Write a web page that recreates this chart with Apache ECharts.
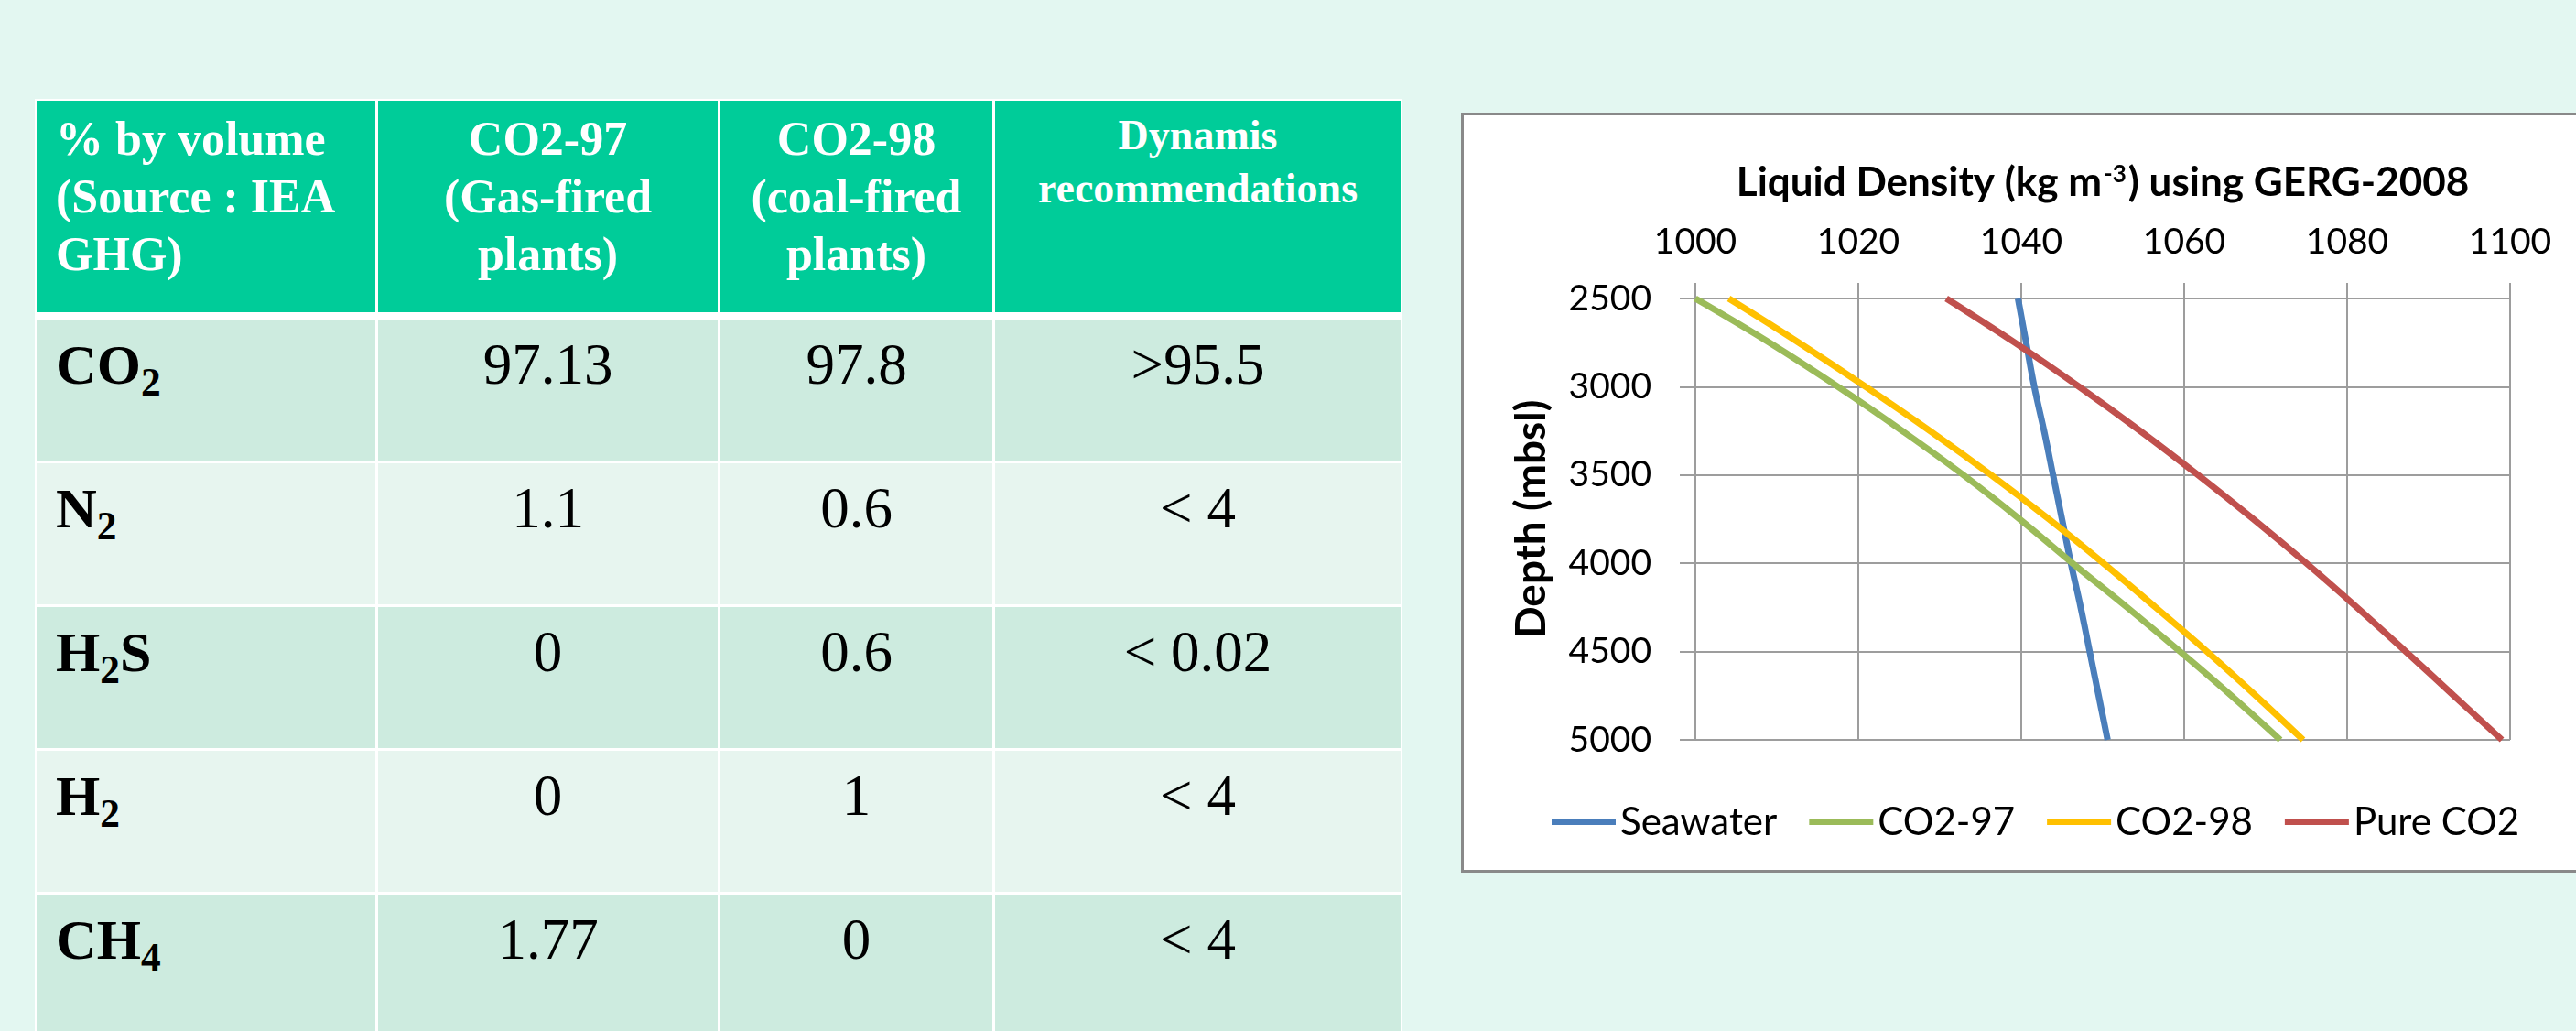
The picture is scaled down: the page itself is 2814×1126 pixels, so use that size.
<!DOCTYPE html>
<html>
<head>
<meta charset="utf-8">
<script src="https://cdn.jsdelivr.net/npm/echarts@6/dist/echarts.min.js"></script>
<style>
  body {
    margin: 0;
    width: 2814px;
    height: 1126px;
    overflow: hidden;
    position: relative;
    background: #e3f7f1;
    font-family: "Liberation Serif", "Times New Roman", serif;
  }
  #table {
    position: absolute;
    left: 38px;
    top: 108px;
    padding: 2px;
    background: #ffffff;
    display: grid;
    grid-template-columns: 370px 371px 297px 443px;
    grid-template-rows: 236px 154px 154px 154px 154px 154px;
    column-gap: 3px;
    row-gap: 3px;
  }
  .cell {
    box-sizing: border-box;
    white-space: nowrap;
  }
  .head {
    background: #00cc99;
    color: #ffffff;
    font-weight: bold;
    font-size: 52px;
    line-height: 63px;
    padding-top: 10px;
    margin-bottom: 5px;
    text-align: center;
  }
  .head.small {
    font-size: 46px;
    line-height: 58px;
    padding-top: 9px;
  }
  .body {
    color: #000000;
    font-size: 63px;
    line-height: 72px;
    padding-top: 13px;
    text-align: center;
  }
  .first {
    text-align: left;
    padding-left: 21px;
  }
  .body.first {
    font-weight: bold;
    font-size: 62px;
  }
  .odd { background: #cdebdf; }
  .even { background: #e7f5ef; }
  sub {
    font-size: 0.7em;
    vertical-align: -0.3em;
    line-height: 0;
  }
  #frame {
    position: absolute;
    left: 1596px;
    top: 123px;
    width: 1240px;
    height: 830px;
    box-sizing: border-box;
    border: 3px solid #898989;
    background: #ffffff;
  }
  #chart {
    position: absolute;
    left: 0;
    top: 0;
    width: 2814px;
    height: 1126px;
  }
</style>
</head>
<body>
<div id="table"></div>
<div id="frame"></div>
<div id="chart"></div>
<script>
// table content
const headers = [
  ["% by volume", "(Source : IEA", "GHG)"],
  ["CO2-97", "(Gas-fired", "plants)"],
  ["CO2-98", "(coal-fired", "plants)"],
  ["Dynamis", "recommendations"]
];
const components = ["CO<sub>2</sub>", "N<sub>2</sub>", "H<sub>2</sub>S", "H<sub>2</sub>", "CH<sub>4</sub>"];
const gasFired = ["97.13", "1.1", "0", "0", "1.77"];
const coalFired = ["97.8", "0.6", "0.6", "1", "0"];
const recommendations = [">95.5", "< 4", "< 0.02", "< 4", "< 4"];

// chart data: depth (mbsl) and liquid density (kg m-3)
const depths = [2500, 2750, 3000, 3250, 3500, 3750, 4000, 4250, 4500, 4750, 5000];
const seawater = [1039.6, 1040.6, 1041.6, 1042.8, 1043.9, 1045.0, 1046.1, 1047.3, 1048.4, 1049.5, 1050.6];
const co297 = [1000.0, 1009.1, 1017.5, 1025.4, 1032.9, 1039.8, 1046.3, 1053.0, 1059.5, 1065.8, 1071.8];
const co298 = [1004.1, 1012.7, 1020.9, 1028.8, 1036.3, 1043.4, 1050.1, 1056.5, 1062.8, 1068.8, 1074.6];
const pureCO2 = [1030.8, 1039.2, 1047.1, 1054.6, 1061.7, 1068.5, 1075.0, 1081.2, 1087.2, 1093.1, 1099.0];

const seriesNames = ["Seawater", "CO2-97", "CO2-98", "Pure CO2"];
const seriesColors = ["#4a7ebb", "#9bbb59", "#ffc000", "#c0504d"];

// build the table
const table = document.getElementById("table");
const escape = (s) => s.replace(/&/g, "&amp;").replace(/</g, "&lt;").replace(/>/g, "&gt;");
headers.forEach((lines, i) => {
  const div = document.createElement("div");
  div.className = "cell head" + (i === 0 ? " first" : "") + (i === 3 ? " small" : "");
  div.innerHTML = lines.map(escape).join("<br>");
  table.appendChild(div);
});
components.forEach((name, r) => {
  const cls = r % 2 === 0 ? "odd" : "even";
  const row = [name, escape(gasFired[r]), escape(coalFired[r]), escape(recommendations[r])];
  row.forEach((html, c) => {
    const div = document.createElement("div");
    div.className = "cell body " + cls + (c === 0 ? " first" : "");
    div.innerHTML = html;
    table.appendChild(div);
  });
});

// chart
const gray = "#9d9d9d";
const toPoints = (values) => depths.map((d, i) => [values[i], d]);
const seriesValues = [seawater, co297, co298, pureCO2];
const plain = (v) => String(v);

const myChart = echarts.init(document.getElementById("chart"));
const option = {
  animation: false,
  grid: { left: 1852, top: 326, width: 890, height: 482 },
  xAxis: {
    type: "value",
    position: "top",
    min: 1000,
    max: 1100,
    interval: 20,
    name: "{t|Liquid Density (kg m}{sup|-3}{t|) using GERG-2008}",
    nameLocation: "middle",
    nameGap: 104,
    nameMoveOverlap: false,
    nameTextStyle: {
      rich: {
        t: { fontFamily: "Lato", fontWeight: "bold", fontSize: 44, color: "#000" },
        sup: { fontFamily: "Lato", fontWeight: "bold", fontSize: 26, color: "#000", verticalAlign: "top", padding: [0, 2, 0, 2] }
      }
    },
    axisLine: { show: true, onZero: false, lineStyle: { color: gray, width: 2 } },
    axisTick: { show: true, inside: false, length: 17, lineStyle: { color: gray, width: 2 } },
    axisLabel: { fontFamily: "Lato", fontSize: 39, color: "#000", margin: 42, formatter: plain },
    splitLine: { show: true, lineStyle: { color: gray, width: 2 } }
  },
  yAxis: {
    type: "value",
    inverse: true,
    min: 2500,
    max: 5000,
    interval: 500,
    name: "Depth (mbsl)",
    nameLocation: "middle",
    nameGap: 156,
    nameMoveOverlap: false,
    nameTextStyle: { fontFamily: "Lato", fontWeight: "bold", fontSize: 46, color: "#000" },
    axisLine: { show: true, onZero: false, lineStyle: { color: gray, width: 2 } },
    axisTick: { show: true, inside: false, length: 17, lineStyle: { color: gray, width: 2 } },
    axisLabel: { fontFamily: "Lato", fontSize: 39, color: "#000", margin: 48, formatter: plain },
    splitLine: { show: true, lineStyle: { color: gray, width: 2 } }
  },
  legend: {
    left: 1690,
    top: 872,
    icon: "rect",
    itemWidth: 70,
    itemHeight: 6,
    itemGap: 35,
    textStyle: { fontFamily: "Lato", fontSize: 42, color: "#000" },
    data: seriesNames
  },
  series: seriesNames.map((name, i) => ({
    name: name,
    type: "line",
    smooth: 0.4,
    symbol: "none",
    data: toPoints(seriesValues[i]),
    itemStyle: { color: seriesColors[i] },
    lineStyle: { color: seriesColors[i], width: 7 }
  }))
};
myChart.setOption(option);
</script>
</body>
</html>
